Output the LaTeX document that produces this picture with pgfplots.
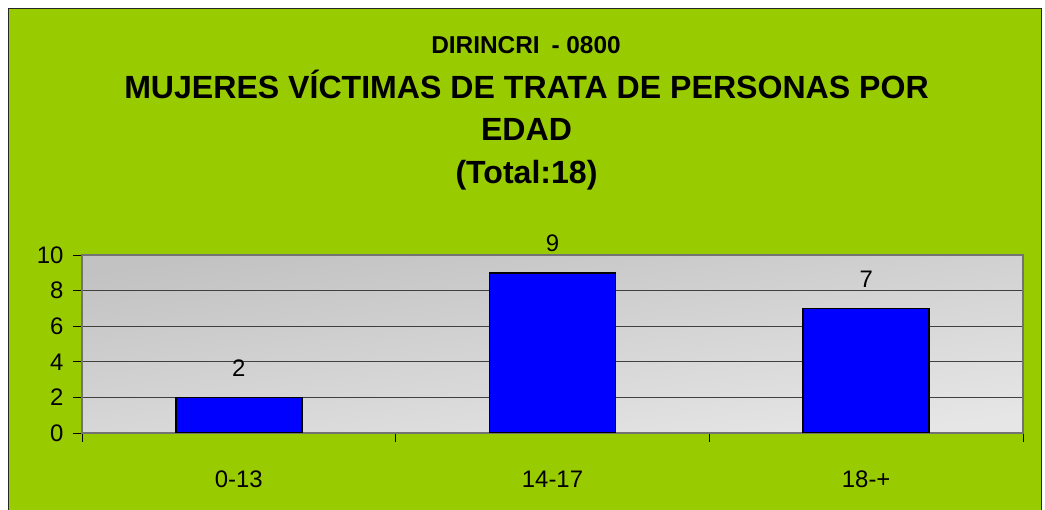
\documentclass[border=0pt]{standalone}
\usepackage{fontspec}
\setmainfont{Liberation Sans}
\usepackage{pgfplots}
\pgfplotsset{compat=1.18}
\definecolor{bggreen}{HTML}{99CC00}
\definecolor{shA}{RGB}{194,194,194}
\definecolor{shB}{RGB}{230,230,230}
\begin{document}
\begin{tikzpicture}[x=1bp,y=1bp]
\useasboundingbox (0,0) rectangle (1045,510);
\fill[white] (0,0) rectangle (1045,510);
\filldraw[fill=bggreen, draw=black!85, line width=1.5bp] (8.5,-5) rectangle (1041.5,501.5);
\node[anchor=base, inner sep=0pt, font=\fontsize{24.5}{28}\selectfont\bfseries] at (526,456) {DIRINCRI\hspace{5bp} - 0800};
\node[anchor=base, inner sep=0pt, font=\fontsize{32.2}{36}\selectfont\bfseries] at (526.5,411) {MUJERES VÍCTIMAS DE TRATA DE PERSONAS POR};
\node[anchor=base, inner sep=0pt, font=\fontsize{32.2}{36}\selectfont\bfseries] at (526.5,369) {EDAD};
\node[anchor=base, inner sep=0pt, font=\fontsize{32.2}{36}\selectfont\bfseries] at (526.5,326) {(Total:18)};
\begin{axis}[
  at={(82bp,77bp)}, anchor=south west,
  scale only axis, width=941bp, height=178bp,
  xmin=-0.5, xmax=2.5, ymin=0, ymax=10,
  ytick={0,2,4,6,8,10},
  xtick={0,1,2}, xticklabels={0-13,14-17,18-+},
  minor xtick={-0.5,0.5,1.5,2.5},
  tick align=outside, tick pos=left,
  major tick length=9bp, minor tick length=9bp,
  every major x tick/.append style={draw=none},
  tick style={black, line width=0.8bp},
  ymajorgrids, major grid style={black!75, line width=0.9bp},
  axis line style={draw=black!55, line width=1.5bp},
  axis background/.style={top color=shA, bottom color=shB, shading angle=8},
  ticklabel style={font=\fontsize{24}{28}\selectfont},
  xticklabel style={anchor=base, yshift=-46bp},
  yticklabel style={xshift=-6bp},
  /pgf/number format/assume math mode=true,
  nodes near coords,
  every node near coord/.append style={font=\fontsize{24}{28}\selectfont, black, yshift=17bp},
  ybar, bar width=126bp,
]
\addplot[fill=blue, draw=black, line width=1.5bp] coordinates {(0,2) (1,9) (2,7)};
\end{axis}
\end{tikzpicture}
\end{document}
